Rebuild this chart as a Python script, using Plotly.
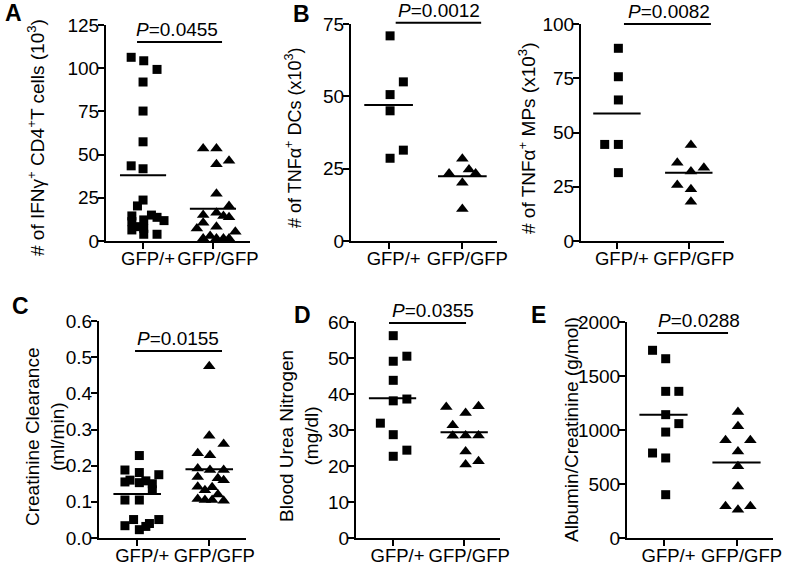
import plotly.graph_objects as go

# ---------------- data ----------------
categories = ["GFP/+", "GFP/GFP"]

# A: IFNg+ CD4+ T cells (10^3)
a_het = [106.3, 104.3, 99.3, 92.0, 75.2, 57.4, 43.5, 41.8, 23.7, 20.3, 15.0,
         14.5, 13.7, 12.2, 11.8, 11.2, 8.3, 7.3, 6.4, 3.9, 3.9]
a_hom = [53.6, 53.6, 44.4, 46.4, 27.4, 20.3, 16.4, 15.0, 14.5, 13.7, 10.6,
         8.3, 7.3, 5.4, 2.9, 1.5, 1.5, 1.5, 1.5]
a_means = [38.1, 18.7]
a_p = "0.0455"

# B (left): TNFa+ DCs (x10^3)
b1_het = [70.9, 55.0, 50.6, 45.0, 31.4, 28.6]
b1_hom = [23.3, 28.4, 24.7, 23.3, 20.1, 11.1]
b1_means = [47.0, 22.4]
b1_p = "0.0012"

# B (right): TNFa+ MPs (x10^3)
b2_het = [88.8, 75.7, 65.0, 44.5, 44.5, 31.5]
b2_hom = [36.1, 44.2, 32.0, 33.8, 25.8, 23.8, 18.1]
b2_means = [58.8, 31.5]
b2_p = "0.0082"

# C: creatinine clearance (ml/min)
c_het = [0.228, 0.188, 0.181, 0.175, 0.160, 0.158, 0.155, 0.153, 0.150, 0.133,
         0.105, 0.105, 0.051, 0.051, 0.040, 0.034, 0.032, 0.023]
c_hom = [0.475, 0.283, 0.260, 0.234, 0.229, 0.192, 0.188, 0.188, 0.169, 0.165,
         0.160, 0.142, 0.140, 0.132, 0.120, 0.108, 0.105, 0.105, 0.103]
c_means = [0.122, 0.190]
c_p = "0.0155"

# D: blood urea nitrogen (mg/dl)
d_het = [56.2, 50.5, 49.1, 43.8, 38.1, 38.6, 31.9, 28.7, 22.7, 24.4]
d_hom = [36.4, 34.7, 36.6, 31.3, 28.4, 28.5, 28.5, 24.0, 20.4, 21.3]
d_means = [38.8, 29.4]
d_p = "0.0355"

# E: albumin/creatinine (g/mol)
e_het = [1738, 1660, 1358, 1358, 1142, 1059, 981, 787, 741, 401]
e_hom = [1167, 1034, 904, 904, 802, 664, 478, 293, 293, 262]
e_means = [1142, 700]
e_p = "0.0288"

# ---------------- layout / style ----------------
W, H = 787, 567
FONT = "Liberation Sans, Arial, Helvetica, sans-serif"
BLACK = "#000000"
FS = 19


def fx(px):
    """pixel x -> paper fraction"""
    return px / W


def fy(py):
    """pixel y (from top) -> paper fraction"""
    return 1 - py / H


# horizontal scatter offsets of points within their category (visual layout)
a_het_off = [-0.17, 0.01, 0.2, 0, 0, 0, -0.17, 0, 0, -0.08, 0.12, -0.16, 0.2,
             0.01, 0.3, -0.16, -0.08, 0.01, -0.16, 0.01, 0.2]
a_hom_off = [-0.14, 0.05, 0.05, 0.23, 0.05, 0.23, 0.05, -0.14, 0.15, 0.23, -0.14,
             0.05, -0.23, 0.32, -0.04, -0.14, 0.05, 0.15, 0.23]
b1_het_off = [0.02, 0.2, 0.02, 0.02, 0.2, 0.02]
b1_hom_off = [-0.18, 0.0, 0.09, 0.18, 0.0, 0.0]
b2_het_off = [0.02, 0.02, 0.02, -0.17, 0.02, 0.02]
b2_hom_off = [-0.16, 0.03, 0.03, 0.21, -0.16, 0.03, 0.03]
c_het_off = [0.03, -0.17, 0.03, 0.3, -0.1, 0.12, -0.17, 0.03, 0.21, 0.21,
             -0.17, 0.03, -0.05, 0.3, 0.17, -0.17, 0.12, 0.03]
c_hom_off = [0.0, 0.0, 0.2, -0.16, 0.01, -0.16, 0.01, 0.2, -0.16, 0.12, 0.2,
             -0.16, 0.04, -0.06, 0.12, -0.16, -0.06, 0.04, 0.2]
d_het_off = [0.01, 0.2, 0.01, 0.01, 0.01, 0.2, -0.17, 0.01, 0.01, 0.2]
d_hom_off = [-0.25, 0.02, 0.2, -0.16, -0.16, 0.02, 0.2, 0.02, 0.02, 0.2]
e_het_off = [-0.15, 0.03, 0.03, 0.21, 0.03, 0.21, 0.03, -0.15, 0.03, 0.03]
e_hom_off = [0.02, 0.02, -0.15, 0.19, 0.02, 0.02, 0.02, -0.15, 0.19, 0.02]

panels = [
    dict(letter="A", het=a_het, hom=a_hom, het_off=a_het_off, hom_off=a_hom_off,
         means=a_means, p=a_p, ymax=125, dtick=25, fmt="",
         box=(106, 250, 25, 241), xr=(-0.53, 1.53),
         bar=(-0.086, 1.13, 115.2), ptext_x=0.479,
         title="# of IFNγ<sup>+</sup> CD4<sup>+</sup>T cells (10<sup>3</sup>)",
         title_fs=19, title_pos=(36, 138), letter_pos=(13, 13)),
    dict(letter="B", het=b1_het, hom=b1_hom, het_off=b1_het_off, hom_off=b1_hom_off,
         means=b1_means, p=b1_p, ymax=75, dtick=25, fmt="",
         box=(351, 497, 24, 241), xr=(-0.51, 1.47),
         bar=(0.096, 1.255, 75.4), ptext_x=0.685,
         title="# of TNFα<sup>+</sup> DCs (x10<sup>3</sup>)",
         title_fs=18, title_pos=(293, 138), letter_pos=(301, 14)),
    dict(letter="", het=b2_het, hom=b2_hom, het_off=b2_het_off, hom_off=b2_hom_off,
         means=b2_means, p=b2_p, ymax=100, dtick=25, fmt="",
         box=(581, 724, 24, 241), xr=(-0.5, 1.49),
         bar=(0.098, 1.308, 100.0), ptext_x=0.731,
         title="# of TNFα<sup>+</sup> MPs (x10<sup>3</sup>)",
         title_fs=19, title_pos=(527, 138), letter_pos=None),
    dict(letter="C", het=c_het, hom=c_hom, het_off=c_het_off, hom_off=c_hom_off,
         means=c_means, p=c_p, ymax=0.6, dtick=0.1, fmt=".1f",
         box=(99, 246, 321, 538), xr=(-0.53, 1.51),
         bar=(-0.03, 1.177, 0.517), ptext_x=0.573,
         title="Creatinine Clearance<br>(ml/min)",
         title_fs=19, title_pos=(45, 437), letter_pos=(20, 306)),
    dict(letter="D", het=d_het, hom=d_hom, het_off=d_het_off, hom_off=d_hom_off,
         means=d_means, p=d_p, ymax=60, dtick=10, fmt="",
         box=(356, 500, 322, 538), xr=(-0.51, 1.5),
         bar=(-0.049, 1.026, 59.7), ptext_x=0.565,
         title="Blood Urea Nitrogen<br>(mg/dl)",
         title_fs=19, title_pos=(299, 436), letter_pos=(302, 315)),
    dict(letter="E", het=e_het, hom=e_hom, het_off=e_het_off, hom_off=e_hom_off,
         means=e_means, p=e_p, ymax=2000, dtick=500, fmt="",
         box=(627, 773, 322, 538), xr=(-0.5, 1.5),
         bar=(-0.089, 0.884, 1898), ptext_x=0.486,
         title="Albumin/Creatinine (g/mol)",
         title_fs=19, title_pos=(571, 430), letter_pos=(538, 315)),
]

MEAN_HALF = 0.33

fig = go.Figure()
layout = dict(
    width=W, height=H, margin=dict(l=0, r=0, t=0, b=0, autoexpand=False),
    paper_bgcolor="white", plot_bgcolor="white", showlegend=False,
    font=dict(family=FONT, size=FS, color=BLACK),
)
annotations = []
shapes = []

for i, pnl in enumerate(panels, start=1):
    sfx = "" if i == 1 else str(i)
    xs, ys = f"x{sfx}", f"y{sfx}"
    xa, ya = f"xaxis{sfx}", f"yaxis{sfx}"
    x0p, x1p, y0p, y1p = pnl["box"]
    layout[xa] = dict(
        domain=[fx(x0p), fx(x1p)], range=list(pnl["xr"]), anchor=ys,
        tickmode="array", tickvals=[0, 1], ticktext=categories, tickangle=0,
        showline=True, linecolor=BLACK, linewidth=2, mirror=False,
        ticks="outside", ticklen=6, tickwidth=2, tickcolor=BLACK,
        ticklabelstandoff=-6, ticklabelshift=5, automargin=False,
        showgrid=False, zeroline=False, fixedrange=True,
        tickfont=dict(family=FONT, size=18.5, color=BLACK),
    )
    layout[ya] = dict(
        domain=[fy(y1p), fy(y0p)], range=[0, pnl["ymax"]], anchor=xs,
        dtick=pnl["dtick"], tick0=0, tickformat=pnl["fmt"],
        showline=True, linecolor=BLACK, linewidth=2,
        ticks="outside", ticklen=6, tickwidth=2, tickcolor=BLACK,
        ticklabelstandoff=-5, automargin=False,
        showgrid=False, zeroline=False, fixedrange=True,
        tickfont=dict(family=FONT, size=FS, color=BLACK),
    )

    # points
    fig.add_trace(go.Scatter(
        x=[0 + o for o in pnl["het_off"]], y=pnl["het"], xaxis=xs, yaxis=ys,
        mode="markers", cliponaxis=False, hoverinfo="skip",
        marker=dict(symbol="square", size=9, color=BLACK, line=dict(width=0))))
    fig.add_trace(go.Scatter(
        x=[1 + o for o in pnl["hom_off"]], y=pnl["hom"], xaxis=xs, yaxis=ys,
        mode="markers", cliponaxis=False, hoverinfo="skip",
        marker=dict(symbol="triangle-up", size=11, color=BLACK, line=dict(width=0))))
    # mean lines
    for c, m in enumerate(pnl["means"]):
        fig.add_trace(go.Scatter(
            x=[c - MEAN_HALF, c + MEAN_HALF], y=[m, m], xaxis=xs, yaxis=ys,
            mode="lines", line=dict(color=BLACK, width=2), hoverinfo="skip"))

    # significance bar + P value (domain coordinates so never clipped/hidden)
    r0, r1 = pnl["xr"]
    bx0, bx1, by = pnl["bar"]
    yfrac = by / pnl["ymax"]
    shapes.append(dict(
        type="line", xref=f"{xs} domain", yref=f"{ys} domain",
        x0=(bx0 - r0) / (r1 - r0), x1=(bx1 - r0) / (r1 - r0),
        y0=yfrac, y1=yfrac, line=dict(color=BLACK, width=2)))
    annotations.append(dict(
        xref=f"{xs} domain", yref=f"{ys} domain",
        x=(pnl["ptext_x"] - r0) / (r1 - r0), y=yfrac,
        xanchor="center", yanchor="bottom",
        text=f"<i>P</i>={pnl['p']}", showarrow=False,
        font=dict(family=FONT, size=FS, color=BLACK)))

    # y-axis title
    tx, ty = pnl["title_pos"]
    annotations.append(dict(
        xref="paper", yref="paper", x=fx(tx), y=fy(ty),
        xanchor="center", yanchor="middle", textangle=-90,
        text=pnl["title"], showarrow=False,
        font=dict(family=FONT, size=pnl["title_fs"], color=BLACK)))

    # panel letter
    if pnl["letter_pos"] is not None:
        lx, ly = pnl["letter_pos"]
        annotations.append(dict(
            xref="paper", yref="paper", x=fx(lx), y=fy(ly),
            xanchor="center", yanchor="middle",
            text=f"<b>{pnl['letter']}</b>", showarrow=False,
            font=dict(family=FONT, size=23, color=BLACK)))

layout["annotations"] = annotations
layout["shapes"] = shapes
fig.update_layout(**layout)
# remove the browser's default 8px page margin so the figure fills the window
fig.write_html("out.html",
               config={"displayModeBar": False, "staticPlot": True},
               post_script="document.body.style.margin='0';"
                           "document.body.style.overflow='hidden';")
